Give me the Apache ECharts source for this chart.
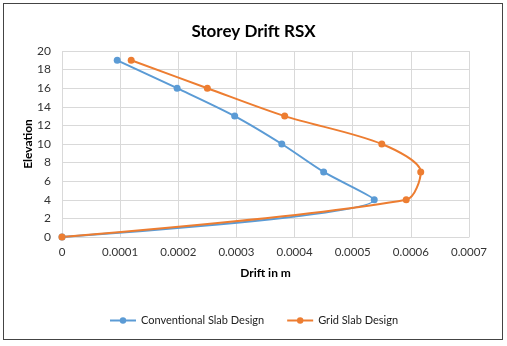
<!DOCTYPE html>
<html><head><meta charset="utf-8">
<script src="https://cdn.jsdelivr.net/npm/echarts@6/dist/echarts.min.js"></script>
<style>html,body{margin:0;padding:0;background:#fff}#c{width:507px;height:346px;position:relative}
#frame{position:absolute;left:3px;top:3px;width:500px;height:337px;border:1px solid #444;box-sizing:border-box;pointer-events:none}</style>
</head><body><div id="c"></div><div id="frame"></div>
<script>
const elevations = [0, 4, 7, 10, 13, 16, 19];
const conventionalDrift = [0, 0.000537, 0.00045, 0.000378, 0.000297, 0.000198, 0.000095];
const gridDrift = [0, 0.000592, 0.000617, 0.00055, 0.000383, 0.00025, 0.000119];
const seriesNames = ['Conventional Slab Design', 'Grid Slab Design'];
const font = 'Lato, Carlito, sans-serif';
const pairs = (xs) => xs.map((x, i) => [x, elevations[i]]);
const chart = echarts.init(document.getElementById('c'), null, {renderer: 'canvas'});
chart.setOption({
  animation: false,
  title: {text: 'Storey Drift RSX', left: 'center', top: 18,
    textStyle: {fontFamily: font, fontSize: 17, fontWeight: 'bold', color: '#000'}},
  grid: {left: 62, right: 38, top: 51, bottom: 109},
  legend: {bottom: 15, left: 'center', itemWidth: 26, itemHeight: 8, itemGap: 22,
    textStyle: {fontFamily: font, fontSize: 11, color: '#222'}, data: seriesNames},
  xAxis: {type: 'value', min: 0, max: 0.0007, interval: 0.0001,
    name: 'Drift in m', nameLocation: 'middle', nameGap: 30, nameMoveOverlap: false,
    nameTextStyle: {fontFamily: font, fontSize: 12, fontWeight: 'bold', color: '#000'},
    axisLine: {show: true, lineStyle: {color: '#d9d9d9'}}, axisTick: {show: false},
    axisLabel: {fontFamily: font, fontSize: 11.5, color: '#333', margin: 9,
      formatter: v => v === 0 ? '0' : v.toFixed(4)},
    splitLine: {show: true, lineStyle: {color: '#d9d9d9'}}},
  yAxis: {type: 'value', min: 0, max: 20, interval: 2,
    name: 'Elevation', nameLocation: 'middle', nameGap: 28, nameMoveOverlap: false,
    nameTextStyle: {fontFamily: font, fontSize: 12, fontWeight: 'bold', color: '#000'},
    axisLine: {show: false}, axisTick: {show: false},
    axisLabel: {fontFamily: font, fontSize: 12, color: '#333', margin: 11},
    splitLine: {show: true, lineStyle: {color: '#d9d9d9'}}},
  series: [
    {name: seriesNames[0], type: 'line', data: pairs(conventionalDrift), smooth: 0.3,
      symbol: 'circle', symbolSize: 7, color: '#5B9BD5', lineStyle: {width: 2}},
    {name: seriesNames[1], type: 'line', data: pairs(gridDrift), smooth: 0.3,
      symbol: 'circle', symbolSize: 7, color: '#ED7D31', lineStyle: {width: 2}}
  ]
});
</script></body></html>
